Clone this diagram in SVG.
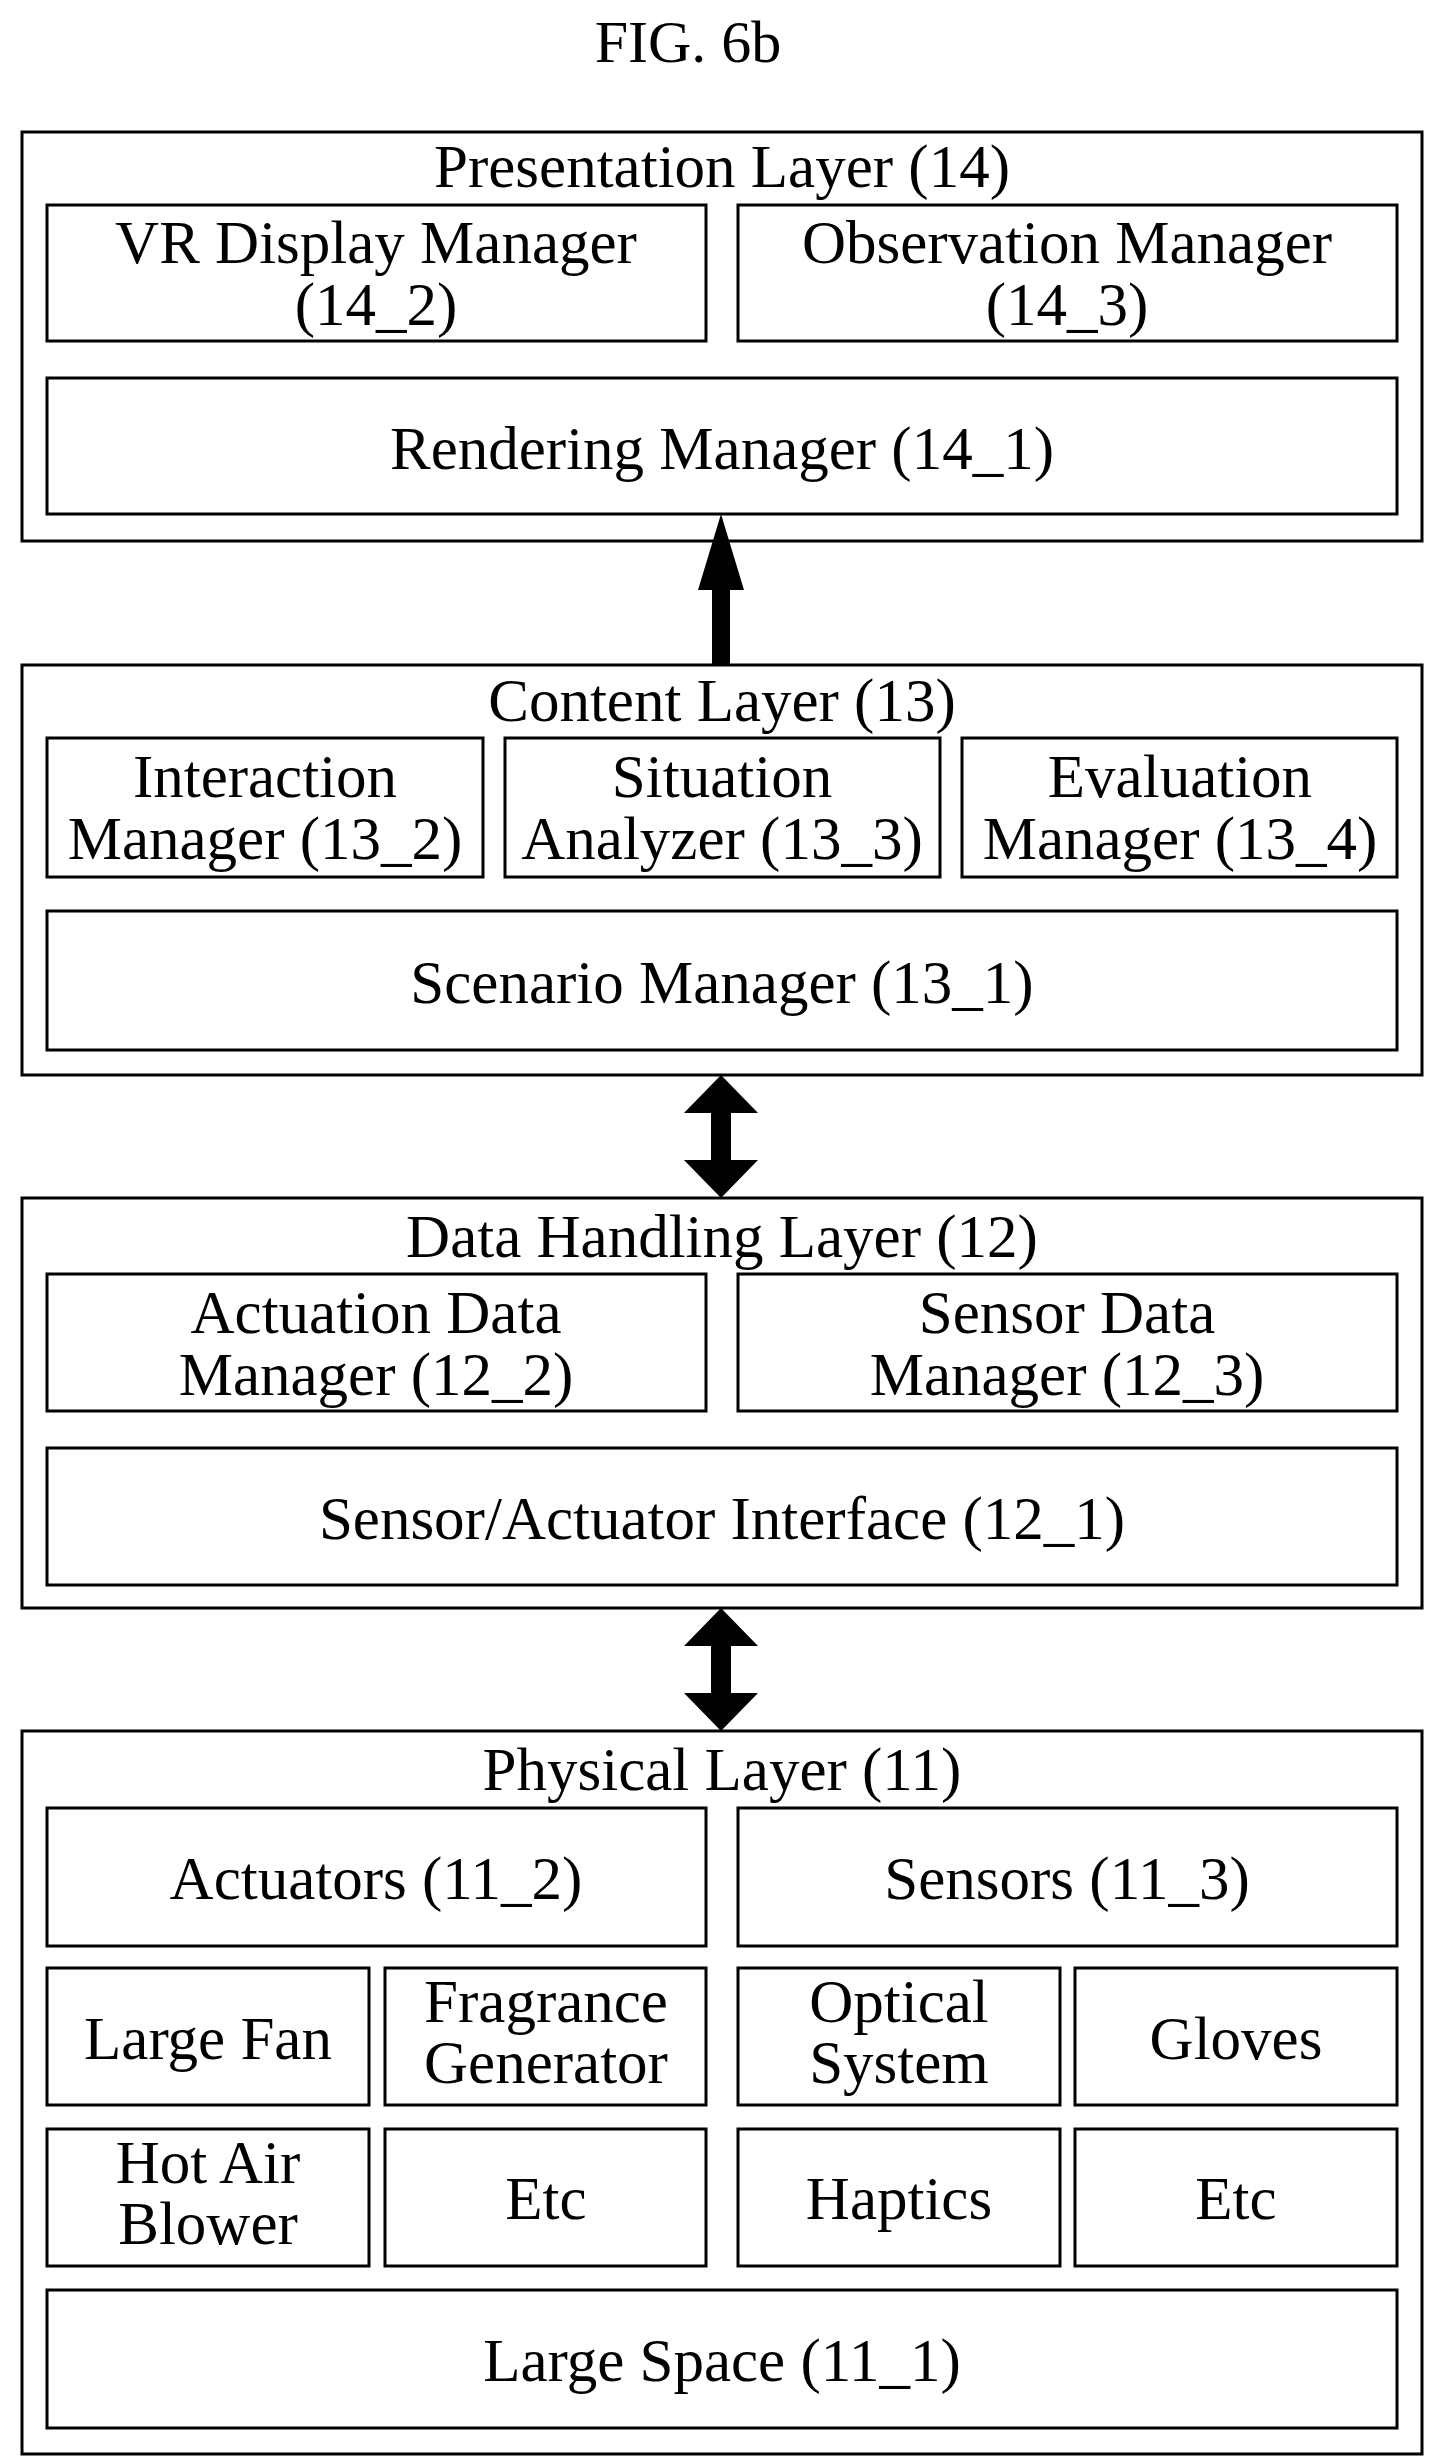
<svg xmlns="http://www.w3.org/2000/svg" width="1438" height="2462" viewBox="0 0 1438 2462">
<style>
rect{fill:none;stroke:#000;stroke-width:3}
text{font-family:"Liberation Serif",serif;font-size:61px;text-anchor:middle;fill:#000}
.a{fill:#000}
</style>
<rect x="0" y="0" width="1438" height="2462" style="fill:#fff;stroke:none"/>
<text x="688" y="62" style="font-size:60px">FIG. 6b</text>
<g id="presentation">
<rect x="22" y="132" width="1400" height="409"/>
<text x="722" y="187">Presentation Layer (14)</text>
<g id="vr"><rect x="47" y="205" width="659" height="136"/><text x="376" y="263">VR Display Manager</text><text x="376" y="325">(14_2)</text></g>
<g id="obs"><rect x="738" y="205" width="659" height="136"/><text x="1067" y="263">Observation Manager</text><text x="1067" y="325">(14_3)</text></g>
<g id="render"><rect x="47" y="378" width="1350" height="136"/><text x="722" y="469">Rendering Manager (14_1)</text></g>
</g>
<g id="content">
<rect x="22" y="665" width="1400" height="410"/>
<text x="722" y="721">Content Layer (13)</text>
<g id="inter"><rect x="47" y="738" width="436" height="139"/><text x="265" y="797">Interaction</text><text x="265" y="859">Manager (13_2)</text></g>
<g id="sit"><rect x="505" y="738" width="435" height="139"/><text x="722" y="797">Situation</text><text x="722" y="859">Analyzer (13_3)</text></g>
<g id="eval"><rect x="962" y="738" width="435" height="139"/><text x="1180" y="797">Evaluation</text><text x="1180" y="859">Manager (13_4)</text></g>
<g id="scen"><rect x="47" y="911" width="1350" height="139"/><text x="722" y="1003">Scenario Manager (13_1)</text></g>
</g>
<g id="data">
<rect x="22" y="1198" width="1400" height="410"/>
<text x="722" y="1257">Data Handling Layer (12)</text>
<g id="act"><rect x="47" y="1274" width="659" height="137"/><text x="376" y="1333">Actuation Data</text><text x="376" y="1395">Manager (12_2)</text></g>
<g id="sens"><rect x="738" y="1274" width="659" height="137"/><text x="1067" y="1333">Sensor Data</text><text x="1067" y="1395">Manager (12_3)</text></g>
<g id="iface"><rect x="47" y="1448" width="1350" height="137"/><text x="722" y="1539">Sensor/Actuator Interface (12_1)</text></g>
</g>
<g id="physical">
<rect x="22" y="1731" width="1400" height="723"/>
<text x="722" y="1790">Physical Layer (11)</text>
<g id="actu"><rect x="47" y="1808" width="659" height="138"/><text x="376" y="1899">Actuators (11_2)</text></g>
<g id="sensors"><rect x="738" y="1808" width="659" height="138"/><text x="1067" y="1899">Sensors (11_3)</text></g>
<g id="fan"><rect x="47" y="1968" width="322" height="137"/><text x="208" y="2059">Large Fan</text></g>
<g id="frag"><rect x="385" y="1968" width="321" height="137"/><text x="546" y="2022">Fragrance</text><text x="546" y="2083">Generator</text></g>
<g id="opt"><rect x="738" y="1968" width="322" height="137"/><text x="899" y="2022">Optical</text><text x="899" y="2083">System</text></g>
<g id="glov"><rect x="1075" y="1968" width="322" height="137"/><text x="1236" y="2059">Gloves</text></g>
<g id="hot"><rect x="47" y="2129" width="322" height="137"/><text x="208" y="2183">Hot Air</text><text x="208" y="2244">Blower</text></g>
<g id="etc1"><rect x="385" y="2129" width="321" height="137"/><text x="546" y="2219">Etc</text></g>
<g id="hap"><rect x="738" y="2129" width="322" height="137"/><text x="899" y="2219">Haptics</text></g>
<g id="etc2"><rect x="1075" y="2129" width="322" height="137"/><text x="1236" y="2219">Etc</text></g>
<g id="space"><rect x="47" y="2290" width="1350" height="138"/><text x="722" y="2381">Large Space (11_1)</text></g>
</g>
<g id="connectors">
<polygon class="a" points="721,514 744,590 730,590 730,665 712,665 712,590 698,590"/>
<polygon class="a" points="721,1075 758,1113 731,1113 731,1160 758,1160 721,1198 684,1160 711,1160 711,1113 684,1113"/>
<polygon class="a" points="721,1608 758,1646 731,1646 731,1693 758,1693 721,1731 684,1693 711,1693 711,1646 684,1646"/>
</g>
</svg>
